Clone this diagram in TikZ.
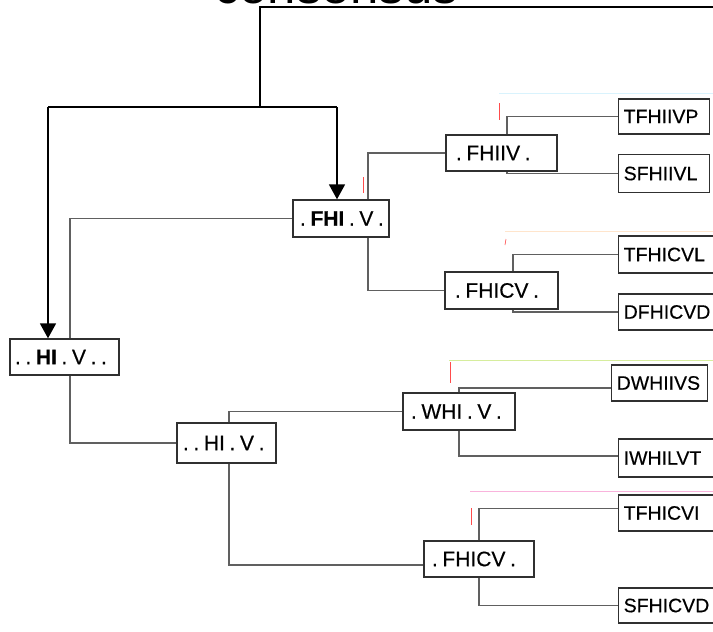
\documentclass[tikz,border=0pt]{standalone}
\usepackage{fontspec}
\setmainfont{Liberation Sans}
\usetikzlibrary{arrows.meta}
\definecolor{conn}{HTML}{606060}
\definecolor{boxc}{HTML}{303030}
\newcommand{\gp}{\hspace{0.22em}}
\begin{document}
\begin{tikzpicture}[x=1pt,y=-1pt,
  ilbl/.style={font=\fontsize{21}{24}\selectfont\addfontfeature{FakeBold=0.4}},
  llbl/.style={font=\fontsize{19.5}{22}\selectfont\addfontfeature{FakeBold=0.4}},
  inbox/.style={ilbl,draw=boxc,line width=1.4pt,fill=white,inner xsep=8pt,inner ysep=0pt,align=left},
  leaf/.style={llbl,draw=boxc,line width=1.4pt,fill=white,inner xsep=5pt,inner ysep=0pt,align=left,anchor=west},
  conline/.style={draw=conn,line width=1.3pt},
  topline/.style={draw=black,line width=1.8pt},
  arr/.style={topline,-{Triangle[width=16pt,length=15pt]}},
  ghost/.style={line width=0.6pt}]
\useasboundingbox (0,0) rectangle (713,632);
% title (cut off at top)
\node[anchor=base,font=\fontsize{51}{56}\selectfont] (title) at (336,3) {consensus};
% faint artefacts
\draw[ghost,draw=cyan!15] (499,93) -- (713,93);
\draw[ghost,draw=orange!20] (505,231) -- (713,231);
\draw[ghost,draw=yellow!60!green!40] (449,360) -- (713,360);
\draw[ghost,draw=magenta!30] (470,491) -- (713,491);
\draw[ghost,draw=red!70] (499,103) -- (499,120);
\draw[ghost,draw=red!70] (506,239) -- (505,245);
\draw[ghost,draw=red!70] (363,177) -- (363,193);
\draw[ghost,draw=red!70] (450,362) -- (450,383);
\draw[ghost,draw=red!70] (471,508) -- (471,525);
% internal nodes
\node[inbox,inner xsep=5pt,text width=99pt,minimum height=36pt] (r) at (64.5,357) {\mbox{.\gp.\gp\textbf{HI}\gp.\gp V\gp.\gp.}};
\node[inbox,inner xsep=7pt,text width=82pt,minimum height=37pt] (a) at (341,218.5) {\mbox{.\gp\textbf{FHI}\gp.\gp V\gp.}};
\node[inbox,inner xsep=10pt,text width=91pt,minimum height=36pt] (b) at (501.5,153) {\mbox{.\gp FHIIV\gp.}};
\node[inbox,inner xsep=10pt,text width=93pt,minimum height=37pt] (c) at (501.5,290.5) {\mbox{.\gp FHICV\gp.}};
\node[inbox,inner xsep=6pt,text width=87pt,minimum height=40pt] (d) at (226.5,443) {\mbox{.\gp.\gp HI\gp.\gp V\gp.}};
\node[inbox,inner xsep=8pt,text width=96pt,minimum height=37pt] (e) at (459,411.5) {\mbox{.\gp WHI\gp.\gp V\gp.}};
\node[inbox,inner xsep=8pt,text width=94pt,minimum height=36pt] (f) at (479,559) {\mbox{.\gp FHICV\gp.}};
% leaves
\node[leaf,text width=81pt,minimum height=35pt] (l1) at (618,116.5) {TFHIIVP};
\node[leaf,text width=81pt,minimum height=38pt] (l2) at (618,173.5) {SFHIIVL};
\node[leaf,text width=92pt,minimum height=37pt] (l3) at (618,254.5) {TFHICVL};
\node[leaf,text width=92pt,minimum height=36pt] (l4) at (618,312) {DFHICVD};
\node[leaf,text width=86pt,minimum height=36pt] (l5) at (611,383) {DWHIIVS};
\node[leaf,text width=92pt,minimum height=38pt] (l6) at (618,458) {IWHILVT};
\node[leaf,text width=92pt,minimum height=36pt] (l7) at (618,513) {TFHICVI};
\node[leaf,text width=92pt,minimum height=35pt] (l8) at (618,605.5) {SFHICVD};
% consensus arrows
\coordinate (tr) at (713,7);
\coordinate (tl) at (260,7);
\coordinate (sp) at (260,107);
\coordinate (ra) at ([xshift=-16.5pt]r.north);
\coordinate (aa) at ([xshift=-4pt]a.north);
\draw[topline] (tr) -- (tl) -- (sp);
\draw[topline] (sp -| ra) -- (sp -| aa);
\draw[arr] (sp -| ra) -- (ra);
\draw[arr] (sp -| aa) -- (aa);
% connectors
\draw[conline] ([xshift=5.5pt]r.north) |- (a.west);
\draw[conline] ([xshift=5.5pt]r.south) |- (d.west);
\draw[conline] ([xshift=27pt]a.north) |- (b.west);
\draw[conline] ([xshift=27pt]a.south) |- (c.west);
\draw[conline] ([xshift=5.5pt]b.north) |- (l1.west);
\draw[conline] ([xshift=5.5pt]b.south) |- (l2.west);
\draw[conline] ([xshift=11.5pt]c.north) |- (l3.west);
\draw[conline] ([xshift=11.5pt]c.south) |- (l4.west);
\draw[conline] ([xshift=2.5pt]d.north) |- (e.west);
\draw[conline] ([xshift=2.5pt]d.south) |- ([yshift=-6pt]f.west);
\draw[conline] (e.north) |- ([yshift=-5pt]l5.west);
\draw[conline] (e.south) |- ([yshift=2pt]l6.west);
\draw[conline] (f.north) |- ([yshift=4.5pt]l7.west);
\draw[conline] (f.south) |- (l8.west);
\end{tikzpicture}
\end{document}
